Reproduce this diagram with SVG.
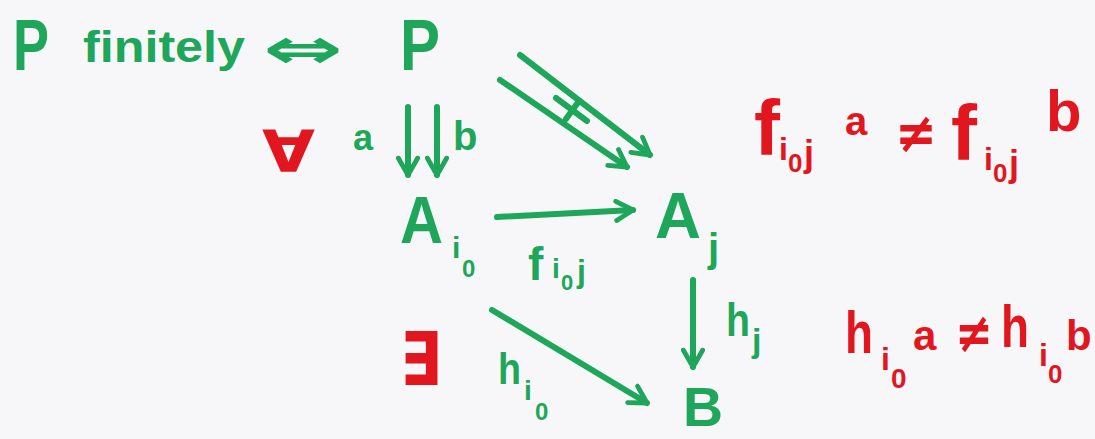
<svg xmlns="http://www.w3.org/2000/svg" width="1095" height="439" viewBox="0 0 1095 439">
<style>
.g{fill:#1ea65a;font-family:"Liberation Sans","DejaVu Sans",sans-serif;font-weight:bold}
.r{fill:#e2161e;font-family:"Liberation Sans","DejaVu Sans",sans-serif;font-weight:bold}
.s{font-family:"DejaVu Sans",sans-serif}
.ln{stroke:#1ea65a;stroke-width:6;fill:none;stroke-linecap:round}
</style>
<defs>
<marker id="ah" viewBox="0 0 10 10" refX="8.5" refY="5" markerWidth="4" markerHeight="4" orient="auto" markerUnits="strokeWidth">
<path d="M1.5,1 L8.5,5 L1.5,9" fill="none" stroke="#1ea65a" stroke-width="2" stroke-linecap="round" stroke-linejoin="round"/>
</marker>
</defs>
<rect width="1095" height="439" fill="#f7f7f9"/>
<g id="statement">
<text class="g" x="13" y="70" font-size="72" textLength="36" lengthAdjust="spacingAndGlyphs">P</text>
<text class="g" x="83" y="62" font-size="44" textLength="162" lengthAdjust="spacingAndGlyphs">finitely</text>
<text class="g s" x="263" y="68" font-size="56" textLength="80" lengthAdjust="spacingAndGlyphs">⇔</text>
</g>
<g id="node-P">
<text class="g" x="400" y="70" font-size="72" textLength="40" lengthAdjust="spacingAndGlyphs">P</text>
</g>
<g id="forall">
<text class="r s" x="262" y="172" font-size="58" textLength="53" lengthAdjust="spacingAndGlyphs">∀</text>
</g>
<g id="exists">
<text class="r s" x="400" y="385" font-size="74" textLength="42" lengthAdjust="spacingAndGlyphs">∃</text>
</g>
<g id="node-Ai0">
<text class="g" x="400" y="243" font-size="66" textLength="43" lengthAdjust="spacingAndGlyphs">A</text>
<text class="g" x="452" y="258" font-size="30">i</text>
<text class="g" x="462" y="277" font-size="24">0</text>
</g>
<g id="node-Aj">
<text class="g" x="655" y="238" font-size="64" textLength="46" lengthAdjust="spacingAndGlyphs">A</text>
<text class="g" x="708" y="262" font-size="40">j</text>
</g>
<g id="node-B">
<text class="g" x="683" y="426" font-size="56" textLength="40" lengthAdjust="spacingAndGlyphs">B</text>
</g>
<g id="connectors">
<path class="ln" d="M408,107 L408,175" marker-end="url(#ah)"/>
<path class="ln" d="M437,107 L437,175" marker-end="url(#ah)"/>
<path class="ln" d="M497,217 L633,210" marker-end="url(#ah)"/>
<path class="ln" d="M500,80 L627,167" marker-end="url(#ah)"/>
<path class="ln" d="M520,55 L650,155" marker-end="url(#ah)"/>
<path class="ln" d="M556,98 L587,121"/>
<path class="ln" d="M579,101 L566,119"/>
<path class="ln" d="M693,280 L693,367" marker-end="url(#ah)"/>
<path class="ln" d="M492,310 L647,403" marker-end="url(#ah)"/>
</g>
<g id="labels">
<text class="g" x="353" y="150" font-size="36">a</text>
<text class="g" x="453" y="150" font-size="40">b</text>
<text class="g" x="528" y="280" font-size="46">f</text>
<text class="g" x="552" y="278" font-size="28">i</text>
<text class="g" x="561" y="290" font-size="22">0</text>
<text class="g" x="577" y="282" font-size="32">j</text>
<text class="g" x="726" y="336" font-size="46" textLength="24" lengthAdjust="spacingAndGlyphs">h</text>
<text class="g" x="752" y="352" font-size="34">j</text>
<text class="g" x="498" y="384" font-size="44" textLength="23" lengthAdjust="spacingAndGlyphs">h</text>
<text class="g" x="524" y="400" font-size="28">i</text>
<text class="g" x="535" y="420" font-size="24">0</text>
</g>
<g id="condition-f">
<text class="r" x="754" y="155" font-size="78">f</text>
<text class="r" x="779" y="160" font-size="32">i</text>
<text class="r" x="788" y="172" font-size="26">0</text>
<text class="r" x="804" y="166" font-size="36">j</text>
<text class="r" x="845" y="135" font-size="40">a</text>
<text class="r s" x="895" y="152" font-size="56" textLength="42" lengthAdjust="spacingAndGlyphs">≠</text>
<text class="r" x="951" y="160" font-size="78">f</text>
<text class="r" x="984" y="170" font-size="32">i</text>
<text class="r" x="993" y="182" font-size="26">0</text>
<text class="r" x="1009" y="176" font-size="36">j</text>
<text class="r" x="1046" y="131" font-size="58">b</text>
</g>
<g id="condition-h">
<text class="r" x="845" y="353" font-size="60" textLength="28" lengthAdjust="spacingAndGlyphs">h</text>
<text class="r" x="881" y="370" font-size="32">i</text>
<text class="r" x="891" y="388" font-size="28">0</text>
<text class="r" x="913" y="350" font-size="42">a</text>
<text class="r s" x="955" y="352" font-size="56" textLength="38" lengthAdjust="spacingAndGlyphs">≠</text>
<text class="r" x="1001" y="347" font-size="60" textLength="28" lengthAdjust="spacingAndGlyphs">h</text>
<text class="r" x="1039" y="366" font-size="32">i</text>
<text class="r" x="1048" y="383" font-size="26">0</text>
<text class="r" x="1066" y="350" font-size="42">b</text>
</g>
</svg>
